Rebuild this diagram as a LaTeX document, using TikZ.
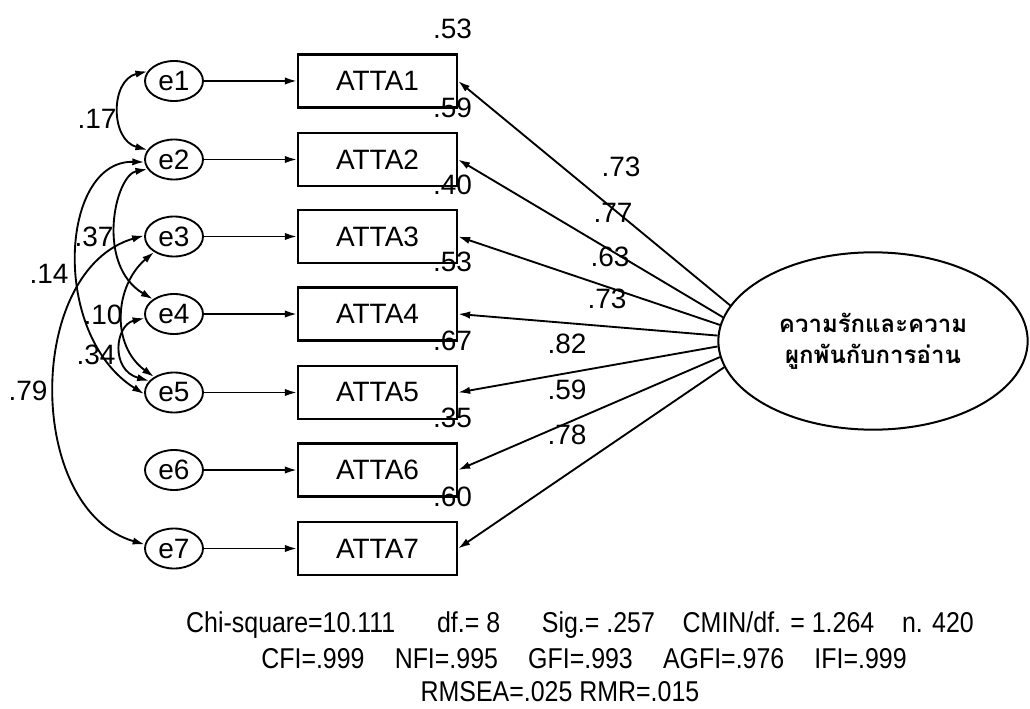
\documentclass[tikz,border=0pt]{standalone}
\usepackage{fontspec}
\usepackage{graphicx}
\setmainfont{Liberation Sans}
\newfontfamily\thaifont[Script=Thai]{Loma}
\usetikzlibrary{arrows.meta,shapes.geometric}

\newcommand{\narrowtext}[1]{\scalebox{0.87}[1]{#1}}

\begin{document}
\begin{tikzpicture}[x=0.75pt,y=-0.75pt,
  every node/.style={font=\fontsize{21}{24}\selectfont},
  err/.style={draw, ellipse, line width=1.4pt, minimum width=43.5pt, minimum height=30pt, inner sep=0pt},
  obs/.style={draw, rectangle, line width=1.9pt, minimum width=119pt, minimum height=40pt, inner sep=0pt},
  lat/.style={draw, ellipse, line width=1.5pt, minimum width=232pt, minimum height=133pt, inner sep=0pt, align=center,
    font=\thaifont\bfseries\fontsize{18}{23}\selectfont},
  tip/.tip={Latex[length=9pt,width=5.5pt]},
  load/.style={line width=1.4pt, -tip},
  cov/.style={line width=1.4pt, tip-tip},
  lab/.style={inner sep=0pt},
  fit/.style={inner sep=0pt, anchor=base, font=\fontsize{21.5}{25}\selectfont}
]
\useasboundingbox (0,0) rectangle (1030,709);

% error terms and observed indicators
\foreach \i/\y in {1/81,2/159.5,3/236.5,4/314,5/392.5,6/470,7/548.5}{
  \node[err] (e\i) at (174,\y) {e\i};
  \node[obs] (A\i) at (377.5,\y) {ATTA\i};
  \draw[load] (e\i.east) -- (A\i.west);
}

% squared multiple correlations
\foreach \i/\v in {1/.53,2/.59,3/.40,4/.53,5/.67,6/.35,7/.60}{
  \node[lab] (r\i) at ([shift={(75,-52)}]A\i.center) {\v};
}

% latent factor
\node[lat] (L) at (873,341) {ความรักและความ\\ผูกพันกับการอ่าน};

% factor loadings
\draw[load] (L.166.6) -- (A1.east);
\draw[load] (L.171.3) -- (A2.east);
\draw[load] (L.174) -- (A3.east);
\draw[load] (L.178.5) -- (A4.east);
\draw[load] (L.182.6) -- (A5.east);
\draw[load] (L.186.4) -- (A6.east);
\draw[load] (L.190) -- (A7.east);

\node[lab] (w1) at (621,167) {.73};
\node[lab] (w2) at (613,213) {.77};
\node[lab] (w3) at (610,257) {.63};
\node[lab] (w4) at (607,299) {.73};
\node[lab] (w5) at (567,344) {.82};
\node[lab] (w6) at (567,390) {.59};
\node[lab] (w7) at (567,435) {.78};

% error covariances
\draw[cov] (e1.160) .. controls (110,80) and (110,140) .. (e2.160);
\draw[cov] (e2.200) .. controls (115,175) and (95,265) .. (e4.145);
\draw[cov] (e2.185) .. controls (60,160) and (50,335) .. (e5.183);
\draw[cov] (e3.178) .. controls (25,270) and (25,510) .. (e7.172);
\draw[cov] (e3.218) .. controls (115,285) and (110,345) .. (e5.142);
\draw[cov] (e4.188) .. controls (115,325) and (110,370) .. (e5.155);

\node[lab] (k1) at (97,119) {.17};
\node[lab] (k2) at (94,237) {.37};
\node[lab] (k3) at (49,274) {.14};
\node[lab] (k4) at (28,391) {.79};
\node[lab] (k5) at (103,315) {.10};
\node[lab] (k6) at (96,355) {.34};

% fit indices
\node[fit] (fit1) at (580,632) {\narrowtext{Chi-square=10.111\hspace{36pt}df.= 8\hspace{36pt}Sig.= .257\hspace{24pt}CMIN/df. = 1.264\hspace{24pt}n. 420}};
\node[fit] (fit2) at (584,668) {\narrowtext{CFI=.999\hspace{26pt}NFI=.995\hspace{26pt}GFI=.993\hspace{26pt}AGFI=.976\hspace{26pt}IFI=.999}};
\node[fit] (fit3) at (560,701) {\narrowtext{RMSEA=.025 RMR=.015}};
\end{tikzpicture}
\end{document}
